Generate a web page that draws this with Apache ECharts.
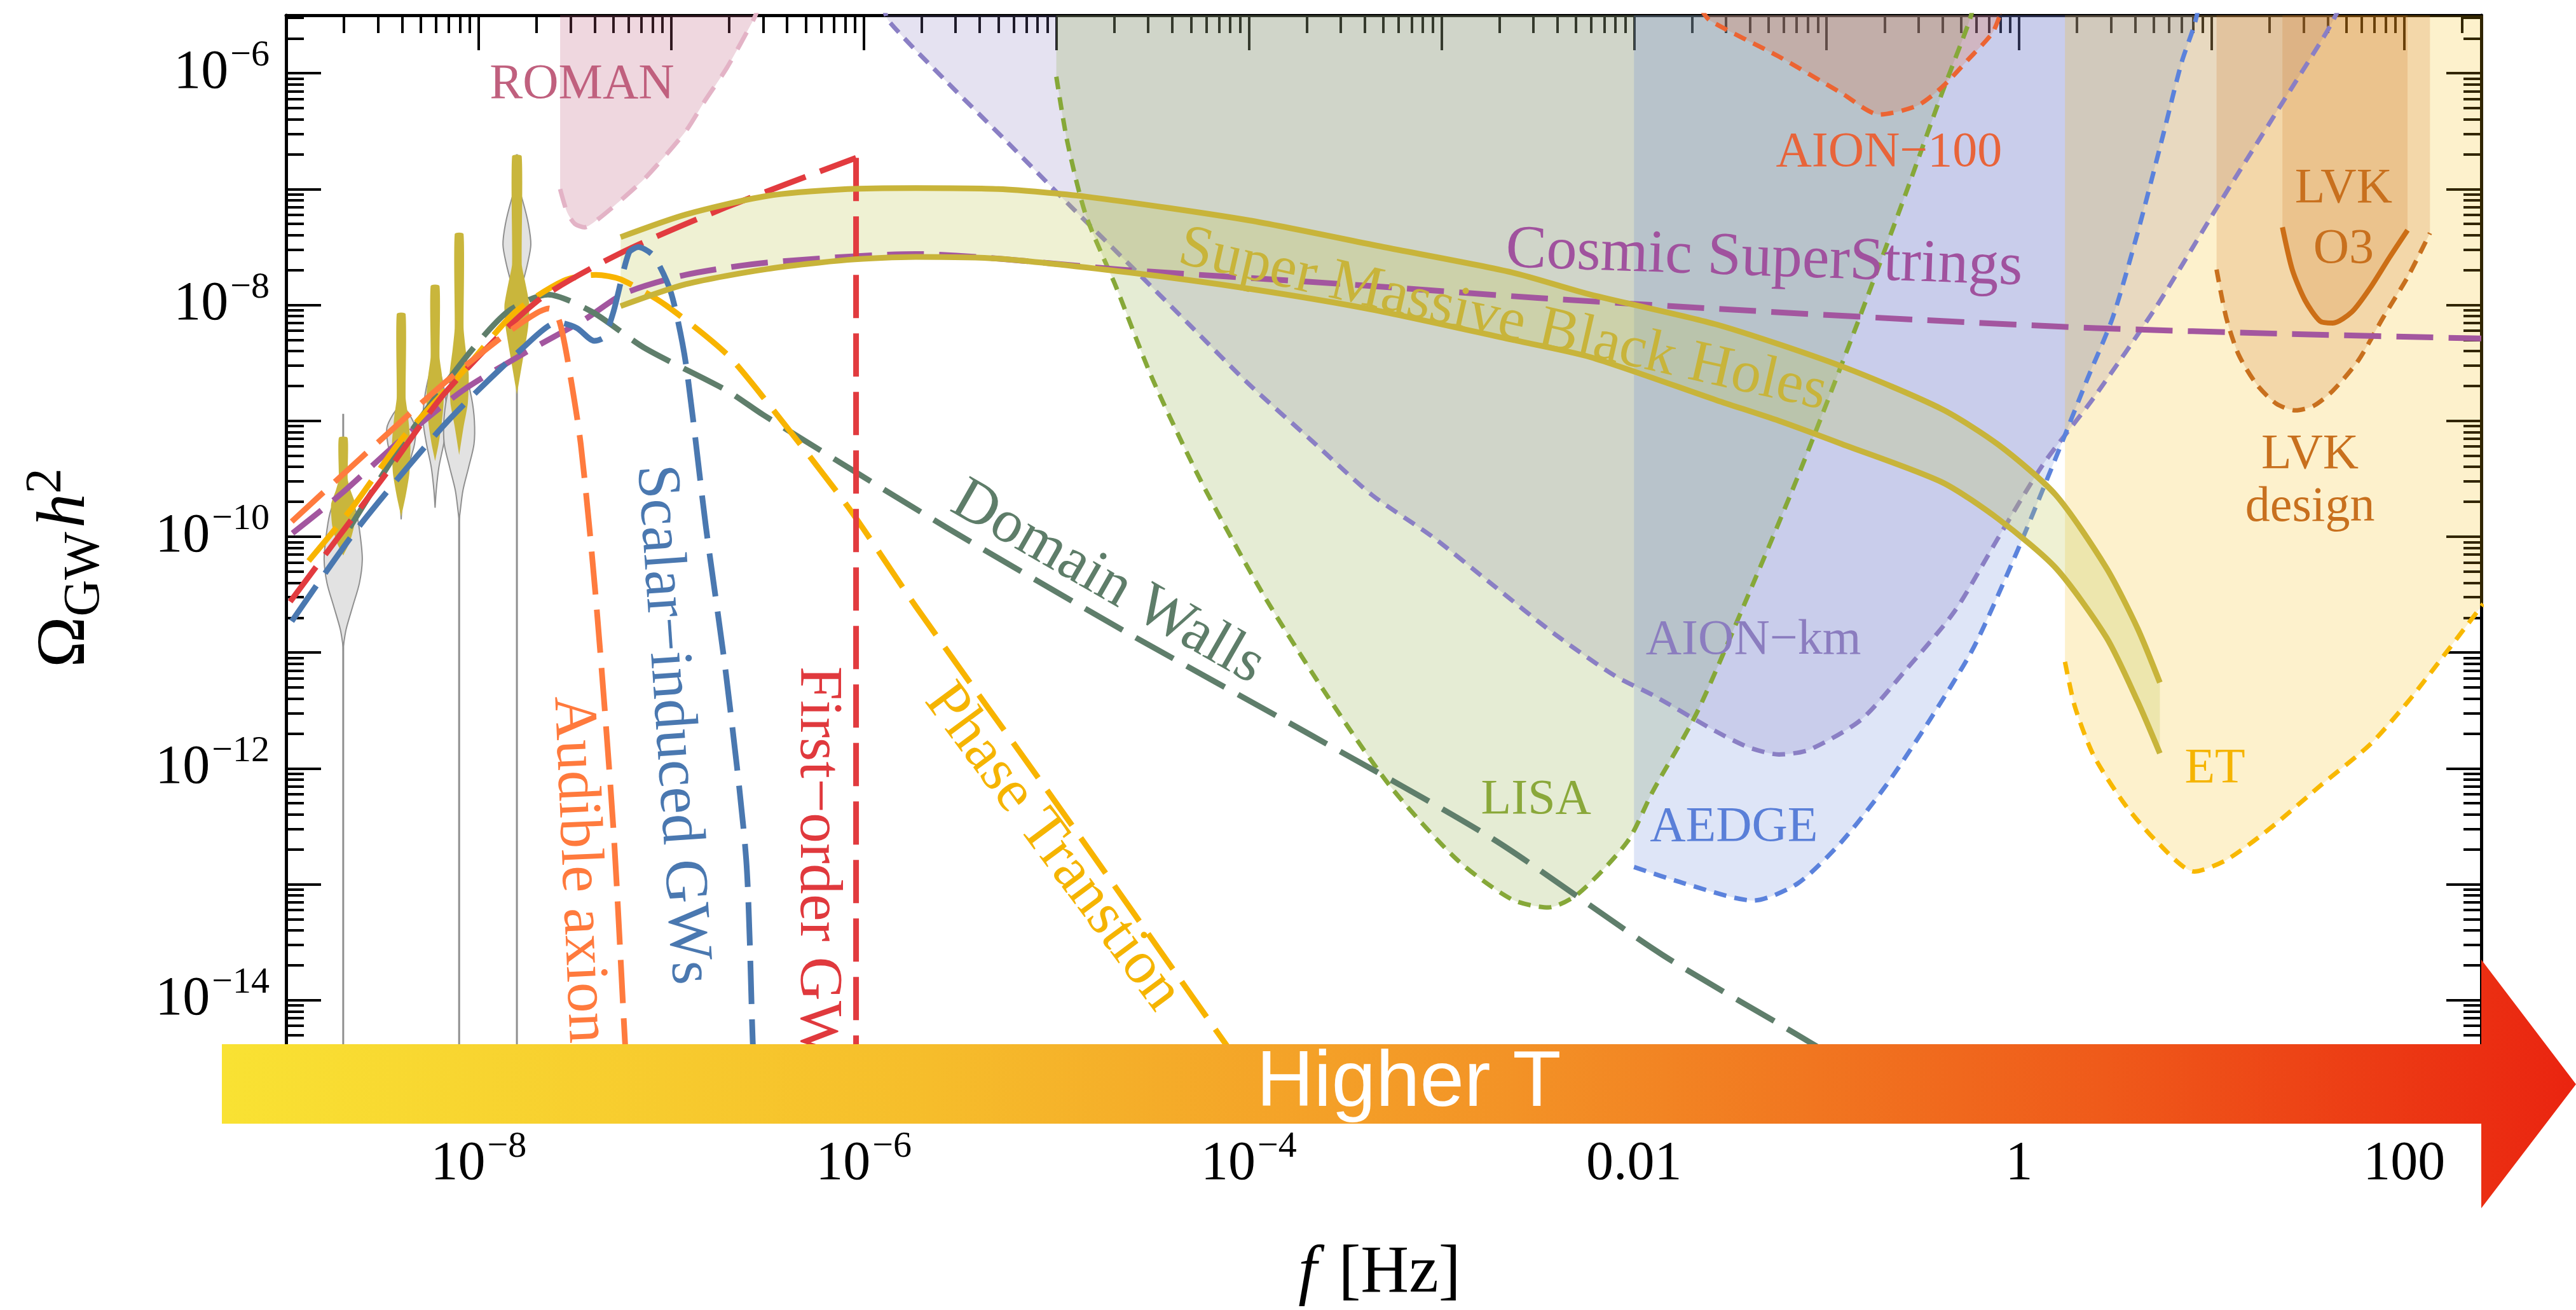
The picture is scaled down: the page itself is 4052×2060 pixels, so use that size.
<!DOCTYPE html>
<html><head><meta charset="utf-8">
<script src="https://cdn.jsdelivr.net/npm/echarts@6/dist/echarts.min.js"></script>
<style>html,body{margin:0;padding:0;background:#fff}#c{width:4052px;height:2060px}</style>
</head><body><div id="c"></div><script>
// ================= DATA (frequency f in Hz, Omega_GW h^2) =================
// Detector sensitivity curves
const ROMAN_F = [2.65e-8, 2.88e-8, 3.16e-8, 3.55e-8, 4.17e-8, 5.62e-8, 7.48e-8, 1.19e-7, 1.48e-7, 1.95e-7, 2.67e-7, 2.82e-7];
const ROMAN_OMEGA = [1.0e-7, 6.31e-8, 5.01e-8, 4.68e-8, 5.50e-8, 8.32e-8, 1.29e-7, 3.16e-7, 5.62e-7, 1.12e-6, 2.88e-6, 3.55e-6];
const AIONKM_F = [1.26e-6, 1.34e-6, 2.67e-6, 5.53e-6, 1.14e-5, 2.36e-5, 4.91e-5, 1.01e-4, 2.10e-4, 4.36e-4, 8.97e-4, 1.86e-3, 3.86e-3, 7.94e-3, 1.26e-2, 2.66e-2, 3.98e-2, 5.66e-2, 8.13e-2, 0.151, 0.255, 0.464, 0.785, 1.34, 2.44, 5.18, 11.0, 20.0, 39.4, 45.7];
const AIONKM_OMEGA = [3.98e-6, 2.86e-6, 8.59e-7, 2.57e-7, 7.59e-8, 2.29e-8, 6.76e-9, 2.04e-9, 6.84e-10, 2.29e-10, 1.0e-10, 3.80e-11, 1.45e-11, 6.31e-12, 4.27e-12, 2.09e-12, 1.51e-12, 1.32e-12, 1.45e-12, 2.63e-12, 6.92e-12, 2.29e-11, 1.0e-10, 4.27e-10, 1.58e-9, 9.77e-9, 7.59e-8, 3.72e-7, 2.24e-6, 3.55e-6];
const LISA_F = [1.0e-5, 1.14e-5, 1.42e-5, 2.05e-5, 3.16e-5, 5.68e-5, 1.17e-4, 2.43e-4, 5.40e-4, 1.21e-3, 2.32e-3, 3.58e-3, 5.15e-3, 9.25e-3, 1.25e-2, 2.12e-2, 3.86e-2, 7.10e-2, 0.140, 0.255, 0.398, 0.541, 0.575];
const LISA_OMEGA = [9.33e-7, 2.57e-7, 6.03e-8, 1.41e-8, 2.29e-9, 2.95e-10, 3.31e-11, 4.79e-12, 7.08e-13, 1.62e-13, 7.41e-14, 6.31e-14, 8.32e-14, 2.34e-13, 6.31e-13, 3.02e-12, 2.95e-11, 3.31e-10, 6.03e-9, 8.71e-8, 6.76e-7, 2.57e-6, 3.55e-6];
const AEDGE_F = [1.0e-2, 1.82e-2, 4.17e-2, 7.10e-2, 0.120, 0.203, 0.344, 0.583, 0.986, 1.55, 2.26, 3.06, 4.12, 5.58, 6.97, 8.11, 8.51];
const AEDGE_OMEGA = [1.41e-13, 1.02e-13, 7.24e-14, 1.02e-13, 2.34e-13, 7.08e-13, 2.63e-12, 1.12e-11, 7.76e-11, 4.79e-10, 2.29e-9, 7.76e-9, 4.17e-8, 2.88e-7, 1.23e-6, 2.57e-6, 3.55e-6];
const AION100_F = [2.24e-2, 2.47e-2, 5.66e-2, 0.120, 0.188, 0.296, 0.398, 0.541, 0.728, 0.813];
const AION100_OMEGA = [3.55e-6, 2.86e-6, 1.39e-6, 6.71e-7, 4.40e-7, 5.25e-7, 7.59e-7, 1.30e-6, 2.24e-6, 3.55e-6];
const ET_F = [1.73, 1.95, 2.44, 3.54, 5.18, 8.11, 11.9, 20.0, 36.6, 66.7, 105, 165, 257];
const ET_OMEGA = [8.32e-12, 3.39e-12, 1.29e-12, 4.90e-13, 2.34e-13, 1.29e-13, 1.62e-13, 3.02e-13, 7.08e-13, 1.62e-12, 3.80e-12, 1.0e-11, 2.63e-11];
const LVKD_F = [10.6, 11.9, 13.8, 17.2, 21.6, 27.2, 33.9, 42.6, 57.7, 77.6, 105, 136];
const LVKD_OMEGA = [2.02e-8, 7.76e-9, 3.72e-9, 2.04e-9, 1.41e-9, 1.23e-9, 1.35e-9, 1.82e-9, 3.31e-9, 7.76e-9, 1.78e-8, 4.17e-8];
const LVKO3_F = [23.3, 26.2, 30.5, 36.6, 42.6, 53.5, 66.7, 83.8, 104];
const LVKO3_OMEGA = [4.68e-8, 2.02e-8, 1.10e-8, 7.24e-9, 6.98e-9, 8.71e-9, 1.41e-8, 2.57e-8, 4.42e-8];
// Super Massive Black Holes band
const SMBH_UP_F = [5.46e-8, 1.19e-7, 3.13e-7, 8.26e-7, 1.86e-6, 5.01e-6, 1.42e-5, 1.0e-4, 5.01e-4, 2.32e-3, 5.92e-3, 2.70e-2, 0.120, 0.398, 0.785, 1.55, 2.84, 4.12, 5.38];
const SMBH_UP = [3.85e-8, 6.03e-8, 8.71e-8, 1.0e-7, 1.02e-7, 1.0e-7, 8.61e-8, 5.37e-8, 3.16e-8, 1.91e-8, 1.23e-8, 6.76e-9, 2.95e-9, 1.26e-9, 6.17e-10, 2.29e-10, 5.37e-11, 1.62e-11, 5.50e-12];
const SMBH_LO_F = [5.46e-8, 1.19e-7, 3.13e-7, 8.26e-7, 1.86e-6, 5.01e-6, 2.36e-5, 1.0e-4, 4.36e-4, 2.32e-3, 5.92e-3, 2.70e-2, 5.66e-2, 0.120, 0.398, 0.785, 1.55, 2.84, 4.12, 5.38];
const SMBH_LO = [9.77e-9, 1.51e-8, 2.04e-8, 2.45e-8, 2.60e-8, 2.51e-8, 1.91e-8, 1.38e-8, 9.12e-9, 5.01e-9, 3.55e-9, 1.50e-9, 1.0e-9, 6.31e-10, 2.95e-10, 1.41e-10, 5.37e-11, 1.35e-11, 3.80e-12, 1.35e-12];
// Model spectra
const CS_F = [1.08e-9, 1.93e-9, 3.98e-9, 8.24e-9, 1.71e-8, 3.52e-8, 5.74e-8, 1.19e-7, 3.13e-7, 1.86e-6, 2.34e-5, 3.16e-4, 3.16e-3, 3.16e-2, 0.316, 2.51, 25.1, 251];
const CS_OMEGA = [1.07e-10, 2.34e-10, 6.92e-10, 1.82e-9, 3.80e-9, 7.41e-9, 1.26e-8, 1.82e-8, 2.32e-8, 2.75e-8, 2.0e-8, 1.51e-8, 1.15e-8, 9.12e-9, 7.41e-9, 6.31e-9, 5.62e-9, 5.13e-9];
const DW_F = [2.14e-9, 3.98e-9, 8.32e-9, 1.41e-8, 2.29e-8, 3.89e-8, 7.24e-8, 1.95e-7, 3.02e-7, 2.69e-6, 2.34e-5, 2.09e-4, 1.86e-3, 1.41e-2, 8.71e-2, 0.501];
const DW_OMEGA = [1.20e-10, 6.17e-10, 3.31e-9, 8.71e-9, 1.23e-8, 8.71e-9, 4.27e-9, 1.82e-9, 1.12e-9, 1.20e-10, 1.48e-11, 1.95e-12, 2.45e-13, 2.45e-14, 4.07e-15, 6.31e-16];
const PT_F = [1.31e-9, 2.23e-9, 3.98e-9, 8.24e-9, 1.55e-8, 2.77e-8, 4.07e-8, 5.48e-8, 9.33e-8, 1.93e-7, 3.02e-7, 8.26e-7, 1.86e-6, 1.0e-5, 6.12e-5, 2.51e-4];
const PT_OMEGA = [6.17e-11, 1.82e-10, 6.92e-10, 2.63e-9, 8.71e-9, 1.62e-8, 1.82e-8, 1.66e-8, 1.0e-8, 3.80e-9, 1.58e-9, 1.82e-10, 2.51e-11, 5.01e-13, 6.92e-15, 2.51e-16];
const FO_F = [1.05e-9, 1.78e-9, 3.16e-9, 6.76e-9, 2.0e-8, 5.50e-8, 1.91e-7, 9.12e-7, 9.12e-7];
const FO_OMEGA = [2.75e-11, 8.91e-11, 3.16e-10, 1.78e-9, 1.07e-8, 2.82e-8, 6.92e-8, 1.86e-7, 1.0e-16];
const AX_F = [1.07e-9, 2.45e-9, 6.46e-9, 1.41e-8, 2.0e-8, 2.32e-8, 2.60e-8, 2.88e-8, 3.39e-8, 4.07e-8, 5.01e-8, 5.75e-8, 6.31e-8];
const AX_OMEGA = [1.35e-10, 4.79e-10, 2.04e-9, 5.75e-9, 8.51e-9, 9.33e-9, 7.59e-9, 3.55e-9, 6.31e-10, 2.82e-11, 3.02e-13, 4.47e-15, 3.16e-16];
const SI_F = [1.07e-9, 2.34e-9, 6.76e-9, 1.70e-8, 2.57e-8, 3.24e-8, 3.98e-8, 4.47e-8, 5.01e-8, 6.03e-8, 6.76e-8, 8.13e-8, 1.0e-7, 1.19e-7, 1.51e-7, 1.93e-7, 2.45e-7, 2.65e-7, 2.82e-7];
const SI_OMEGA = [1.86e-11, 1.17e-10, 9.55e-10, 4.27e-9, 7.08e-9, 6.31e-9, 4.90e-9, 5.25e-9, 8.71e-9, 2.82e-8, 3.16e-8, 2.63e-8, 1.26e-8, 3.16e-9, 1.26e-10, 6.31e-12, 1.66e-13, 4.47e-15, 3.16e-16];
// PTA violins: frequency bins, [Omega, relative density] profiles
const PTA_F = [1.98e-9, 3.96e-9, 5.94e-9, 7.92e-9, 1.58e-8];
const PTA_GRAY = [
  [[2.82e-10,0],[2.24e-10,0.35],[1.58e-10,0.7],[1.0e-10,0.9],[6.31e-11,1.0],[3.98e-11,0.85],[2.51e-11,0.5],[1.58e-11,0.15],[1.12e-11,0]],
  [[1.41e-9,0],[1.12e-9,0.45],[8.71e-10,0.75],[6.31e-10,0.7],[4.47e-10,0.45],[3.16e-10,0.2],[2.0e-10,0.06],[1.41e-10,0]],
  [[3.55e-9,0],[2.51e-9,0.3],[1.58e-9,0.55],[1.0e-9,0.63],[6.31e-10,0.45],[3.98e-10,0.2],[2.51e-10,0.06],[1.78e-10,0]],
  [[3.55e-9,0],[2.51e-9,0.35],[1.58e-9,0.65],[1.0e-9,0.8],[6.31e-10,0.78],[3.98e-10,0.5],[2.51e-10,0.2],[1.58e-10,0.04],[1.41e-10,0]],
  [[1.12e-7,0],[7.94e-8,0.3],[5.01e-8,0.6],[3.31e-8,0.73],[2.24e-8,0.55],[1.41e-8,0.25],[8.91e-9,0.08],[6.31e-9,0]]
];
const PTA_YELLOW = [
  [[7.08e-10,0.2],[3.16e-10,0.2],[2.51e-10,0.35],[1.91e-10,0.6],[1.26e-10,0.55],[8.91e-11,0.3],[7.08e-11,0]],
  [[8.32e-9,0.2],[1.58e-9,0.2],[1.12e-9,0.32],[6.31e-10,0.45],[3.55e-10,0.4],[2.24e-10,0.2],[1.58e-10,0]],
  [[1.45e-8,0.2],[3.55e-9,0.2],[2.51e-9,0.32],[1.58e-9,0.42],[1.0e-9,0.33],[6.31e-10,0.15],[4.79e-10,0]],
  [[4.07e-8,0.2],[6.31e-9,0.2],[3.98e-9,0.32],[2.51e-9,0.47],[1.41e-9,0.42],[8.91e-10,0.2],[5.50e-10,0]],
  [[1.91e-7,0.22],[2.24e-8,0.22],[1.58e-8,0.4],[1.0e-8,0.62],[6.31e-9,0.55],[3.55e-9,0.3],[1.82e-9,0]]
];
const PTA_LINE_TOP = [1.15e-9, null, null, 3.55e-9, 2.0e-7];
// Axis ranges (decades) and tick labels
const X_MIN_EXP = -9, X_MAX_EXP = 2.4, Y_MIN_EXP = -15, Y_MAX_EXP = -5.5;
const X_LABEL_EXP = [-8, -6, -4, -2, 0, 2];
const X_TICK_LABELS = [['10','−8'],['10','−6'],['10','−4'],['0.01',''],['1',''],['100','']];
const Y_LABEL_EXP = [-14, -12, -10, -8, -6];
const Y_TICK_LABELS = [['10','−14'],['10','−12'],['10','−10'],['10','−8'],['10','−6']];
// Text annotations placed in data coordinates
const ANNOTATIONS = [
  {text:'ROMAN', f:3.44e-8, omega:7.94e-7, color:'#c0607e', size:78, rotate:0},
  {text:'AION−100', f:0.211, omega:2.06e-7, color:'#e8643a', size:78, rotate:0},
  {text:'AION−km', f:4.17e-2, omega:1.26e-11, color:'#8b7dbf', size:78, rotate:0},
  {text:'AEDGE', f:3.30e-2, omega:3.08e-13, color:'#5a7fd8', size:78, rotate:0},
  {text:'LISA', f:3.10e-3, omega:5.31e-13, color:'#8aa83a', size:78, rotate:0},
  {text:'ET', f:10.4, omega:9.84e-13, color:'#f5b400', size:78, rotate:0},
  {text:'LVK\nO3', f:48.4, omega:5.47e-8, color:'#c8701e', size:78, rotate:0, lh:95},
  {text:'LVK\ndesign', f:32.4, omega:3.01e-10, color:'#c8701e', size:78, rotate:0, lh:83},
  {text:'Cosmic SuperStrings', f:4.74e-2, omega:2.47e-8, color:'#a0529e', size:96, rotate:-2},
  {text:'Super Massive Black Holes', f:2.08e-3, omega:7.34e-9, color:'#c8b43a', size:94, rotate:-12.8},
  {text:'Domain Walls', f:1.85e-5, omega:3.98e-11, color:'#5e7d69', size:96, rotate:-29.9},
  {text:'Phase Transtion', f:9.57e-6, omega:2.08e-13, color:'#f5b400', size:96, rotate:-53.4},
  {text:'First−order GWs', f:5.74e-7, omega:1.22e-13, color:'#e0393d', size:96, rotate:-90},
  {text:'Scalar−induced GWs', f:1.01e-7, omega:2.38e-12, color:'#4a78b0', size:96, rotate:-86.1},
  {text:'Audible axion', f:3.31e-8, omega:1.34e-13, color:'#ff7a3d', size:96, rotate:-87.5}
];

// ================= BUILD =================
const FONT = 'Liberation Serif';
const zip = (a, b) => a.map((v, i) => [v, b[i]]);
function majorTicks(lo, hi) { const o = []; for (let d = Math.ceil(lo); d <= hi; d++) o.push(d); return o; }
function minorTicks(lo, hi) { const o = []; for (let d = Math.floor(lo); d < hi; d++) for (let k = 2; k <= 9; k++) { const v = d + Math.log10(k); if (v > lo && v < hi) o.push(v); } return o; }

const richLab = {
  b: {fontFamily: FONT, fontSize: 86, lineHeight: 112, color: '#000'},
  s: {fontFamily: FONT, fontSize: 58, lineHeight: 60, color: '#000', verticalAlign: 'top', padding: [0, 0, 0, 3]}
};
function fmtFrom(exps, labels) {
  return v => { const i = exps.indexOf(Math.round(v)); if (i < 0) return ''; const [b, s] = labels[i]; return s ? '{b|' + b + '}{s|' + s + '}' : '{b|' + b + '}'; };
}
function tickAxis(pos, min, max, ticks, len, showLine, lab) {
  return {
    type: 'value', position: pos, min: min, max: max, gridIndex: 0, silent: true,
    axisLine: {show: showLine, onZero: false, lineStyle: {color: '#000', width: 5}},
    axisTick: {show: true, inside: true, length: len, customValues: ticks, lineStyle: {color: '#000', width: 4}},
    axisLabel: lab ? {show: true, customValues: lab.values, formatter: lab.fmt, rich: richLab, margin: lab.margin,
                      fontFamily: FONT, fontSize: 86, color: '#000'} : {show: false},
    splitLine: {show: false}
  };
}
const xMaj = majorTicks(X_MIN_EXP, X_MAX_EXP), xMin = minorTicks(X_MIN_EXP, X_MAX_EXP);
const yMaj = majorTicks(Y_MIN_EXP, Y_MAX_EXP), yMin = minorTicks(Y_MIN_EXP, Y_MAX_EXP);

const xAxes = [
  {type: 'log', logBase: 10, min: Math.pow(10, X_MIN_EXP), max: Math.pow(10, X_MAX_EXP), show: false},
  tickAxis('bottom', X_MIN_EXP, X_MAX_EXP, xMaj, 55, true, {values: X_LABEL_EXP, fmt: fmtFrom(X_LABEL_EXP, X_TICK_LABELS), margin: 20}),
  tickAxis('bottom', X_MIN_EXP, X_MAX_EXP, xMin, 28, false, null),
  tickAxis('top', X_MIN_EXP, X_MAX_EXP, xMaj, 55, true, null),
  tickAxis('top', X_MIN_EXP, X_MAX_EXP, xMin, 28, false, null)
];
const yAxes = [
  {type: 'log', logBase: 10, min: Math.pow(10, Y_MIN_EXP), max: Math.pow(10, Y_MAX_EXP), show: false},
  tickAxis('left', Y_MIN_EXP, Y_MAX_EXP, yMaj, 55, true, {values: Y_LABEL_EXP, fmt: fmtFrom(Y_LABEL_EXP, Y_TICK_LABELS), margin: 26}),
  tickAxis('left', Y_MIN_EXP, Y_MAX_EXP, yMin, 28, false, null),
  tickAxis('right', Y_MIN_EXP, Y_MAX_EXP, yMaj, 55, true, null),
  tickAxis('right', Y_MIN_EXP, Y_MAX_EXP, yMin, 28, false, null)
];

function line(fs, os, color, width, dash, z, extra) {
  return Object.assign({
    type: 'line', xAxisIndex: 0, yAxisIndex: 0, data: zip(fs, os), symbol: 'none', showSymbol: false,
    smooth: 0.25, silent: true, z: z, clip: true,
    lineStyle: {color: color, width: width, type: dash, cap: 'butt', join: 'round'}
  }, extra || {});
}
const DET_DASH = [20, 13], MODEL_DASH = [68, 24];
function detector(fs, os, color, fill, dash, width) {
  return line(fs, os, color, width || 7, dash || DET_DASH, 1, {areaStyle: {color: fill, origin: 'end', opacity: 1}});
}

const series = [
  detector(ROMAN_F, ROMAN_OMEGA, '#e3b3c6', 'rgba(192,96,128,0.25)', [30, 20]),
  detector(AIONKM_F, AIONKM_OMEGA, '#8a7fc4', 'rgba(138,124,192,0.22)'),
  detector(LISA_F, LISA_OMEGA, '#86a838', 'rgba(138,170,58,0.22)'),
  detector(AEDGE_F, AEDGE_OMEGA, '#5b82dc', 'rgba(91,127,214,0.2)'),
  detector(AION100_F, AION100_OMEGA, '#ec6432', 'rgba(232,100,50,0.22)'),
  detector(ET_F, ET_OMEGA, '#f8b800', 'rgba(247,185,0,0.2)'),
  detector(LVKD_F, LVKD_OMEGA, '#c8701e', 'rgba(205,115,30,0.2)'),
  detector(LVKO3_F, LVKO3_OMEGA, '#cc6e16', 'rgba(205,115,30,0.2)', 'solid', 8),
  { // SMBH band fill
    type: 'custom', coordinateSystem: 'cartesian2d', xAxisIndex: 0, yAxisIndex: 0, silent: true, z: 2,
    data: [[SMBH_UP_F[0], SMBH_UP[0]]],
    renderItem: (p, api) => {
      const pts = zip(SMBH_UP_F, SMBH_UP).map(d => api.coord(d)).concat(zip(SMBH_LO_F, SMBH_LO).reverse().map(d => api.coord(d)));
      return {type: 'polygon', shape: {points: pts}, style: {fill: 'rgba(190,200,80,0.25)'}};
    }
  },
  { // PTA violins
    type: 'custom', coordinateSystem: 'cartesian2d', xAxisIndex: 0, yAxisIndex: 0, silent: true, z: 3,
    data: PTA_F.map(f => [f, 1e-9]),
    renderItem: (p, api) => {
      const i = p.dataIndex, f = PTA_F[i], W = 30;
      const poly = prof => {
        const r = [], l = [];
        prof.forEach(([om, d]) => { const c = api.coord([f, om]); r.push([c[0] + d * W, c[1]]); l.push([c[0] - d * W, c[1]]); });
        return r.concat(l.reverse());
      };
      const ch = [];
      if (PTA_LINE_TOP[i]) {
        const a = api.coord([f, PTA_LINE_TOP[i]]), b = api.coord([f, Math.pow(10, Y_MIN_EXP)]);
        ch.push({type: 'line', shape: {x1: a[0], y1: a[1], x2: b[0], y2: b[1]}, style: {stroke: '#8f8f8f', lineWidth: 3}});
      }
      ch.push({type: 'polygon', shape: {points: poly(PTA_GRAY[i]), smooth: 0.3}, style: {fill: '#e2e2e2', stroke: '#8f8f8f', lineWidth: 2}});
      ch.push({type: 'polygon', shape: {points: poly(PTA_YELLOW[i]), smooth: 0.2}, style: {fill: '#c9b63c', stroke: '#c9b63c', lineWidth: 2}});
      return {type: 'group', children: ch};
    }
  },
  line(CS_F, CS_OMEGA, '#a3569f', 9, [58, 24], 4),
  line(DW_F, DW_OMEGA, '#5f7e6b', 9, MODEL_DASH, 4),
  line(PT_F, PT_OMEGA, '#f8b400', 9, MODEL_DASH, 4),
  line(FO_F.slice(0, 8), FO_OMEGA.slice(0, 8), '#e23b3f', 9, MODEL_DASH, 4),
  line(FO_F.slice(7), FO_OMEGA.slice(7), '#e23b3f', 9, MODEL_DASH, 4, {smooth: false}),
  line(AX_F, AX_OMEGA, '#ff7b3e', 9, MODEL_DASH, 4),
  line(SI_F, SI_OMEGA, '#4a78b0', 9, MODEL_DASH, 4),
  line(SMBH_UP_F, SMBH_UP, '#c8b43a', 9, 'solid', 5),
  line(SMBH_LO_F, SMBH_LO, '#c8b43a', 9, 'solid', 5),
  { // text annotations
    type: 'scatter', xAxisIndex: 0, yAxisIndex: 0, symbol: 'circle', symbolSize: 0,
    itemStyle: {color: 'rgba(0,0,0,0)'}, silent: true, z: 6,
    data: ANNOTATIONS.map(a => ({
      value: [a.f, a.omega],
      label: {show: true, position: 'inside', formatter: a.text, rotate: a.rotate, color: a.color, fontSize: a.size,
              fontFamily: FONT, lineHeight: a.lh || Math.round(a.size * 1.1), align: 'center', verticalAlign: 'middle',
              textBorderWidth: 0, opacity: 1}
    }))
  }
];

const chart = echarts.init(document.getElementById('c'), null, {renderer: 'canvas', width: 4052, height: 2060});
chart.setOption({
  animation: false,
  backgroundColor: '#ffffff',
  textStyle: {fontFamily: FONT},
  grid: {left: 450, right: 149, top: 24, bottom: 305, containLabel: false},
  xAxis: xAxes,
  yAxis: yAxes,
  series: series,
  graphic: {elements: [
    {type: 'polygon', z: 100, silent: true,
     shape: {points: [[349, 1642], [3903, 1642], [3903, 1509], [4052, 1705], [3903, 1900], [3903, 1767], [349, 1767]]},
     style: {fill: new echarts.graphic.LinearGradient(0, 0, 1, 0, [
       {offset: 0, color: '#f9e233'}, {offset: 0.3, color: '#f6bd2b'}, {offset: 0.55, color: '#f39226'},
       {offset: 0.8, color: '#ef5a1a'}, {offset: 1, color: '#ea2410'}])}},
    {type: 'text', z: 101, silent: true, x: 2216, y: 1705,
     style: {text: 'Higher T', fill: '#ffffff', font: '125px "Liberation Sans"', align: 'center', verticalAlign: 'middle'}},
    {type: 'text', z: 50, silent: true, x: 2170, y: 2003,
     style: {text: '{i|f}{r|[Hz]}', align: 'center', verticalAlign: 'middle', fill: '#000',
             rich: {i: {fontFamily: FONT, fontStyle: 'italic', fontSize: 105, fill: '#000', padding: [0, 34, 0, 0]},
                    r: {fontFamily: FONT, fontSize: 105, fill: '#000'}}}},
    {type: 'text', z: 50, silent: true, x: 104, y: 893, rotation: Math.PI / 2,
     style: {text: '{o|Ω}{g|GW}{h|h}{s|2}', align: 'center', verticalAlign: 'middle', fill: '#000',
             rich: {o: {fontFamily: FONT, fontSize: 108, lineHeight: 140, fill: '#000'},
                    g: {fontFamily: FONT, fontSize: 80, lineHeight: 84, verticalAlign: 'bottom', fill: '#000'},
                    h: {fontFamily: FONT, fontStyle: 'italic', fontSize: 108, lineHeight: 140, fill: '#000', padding: [0, 0, 0, 6]},
                    s: {fontFamily: FONT, fontSize: 80, lineHeight: 66, verticalAlign: 'top', fill: '#000'}}}}
  ]}
});
</script></body></html>
